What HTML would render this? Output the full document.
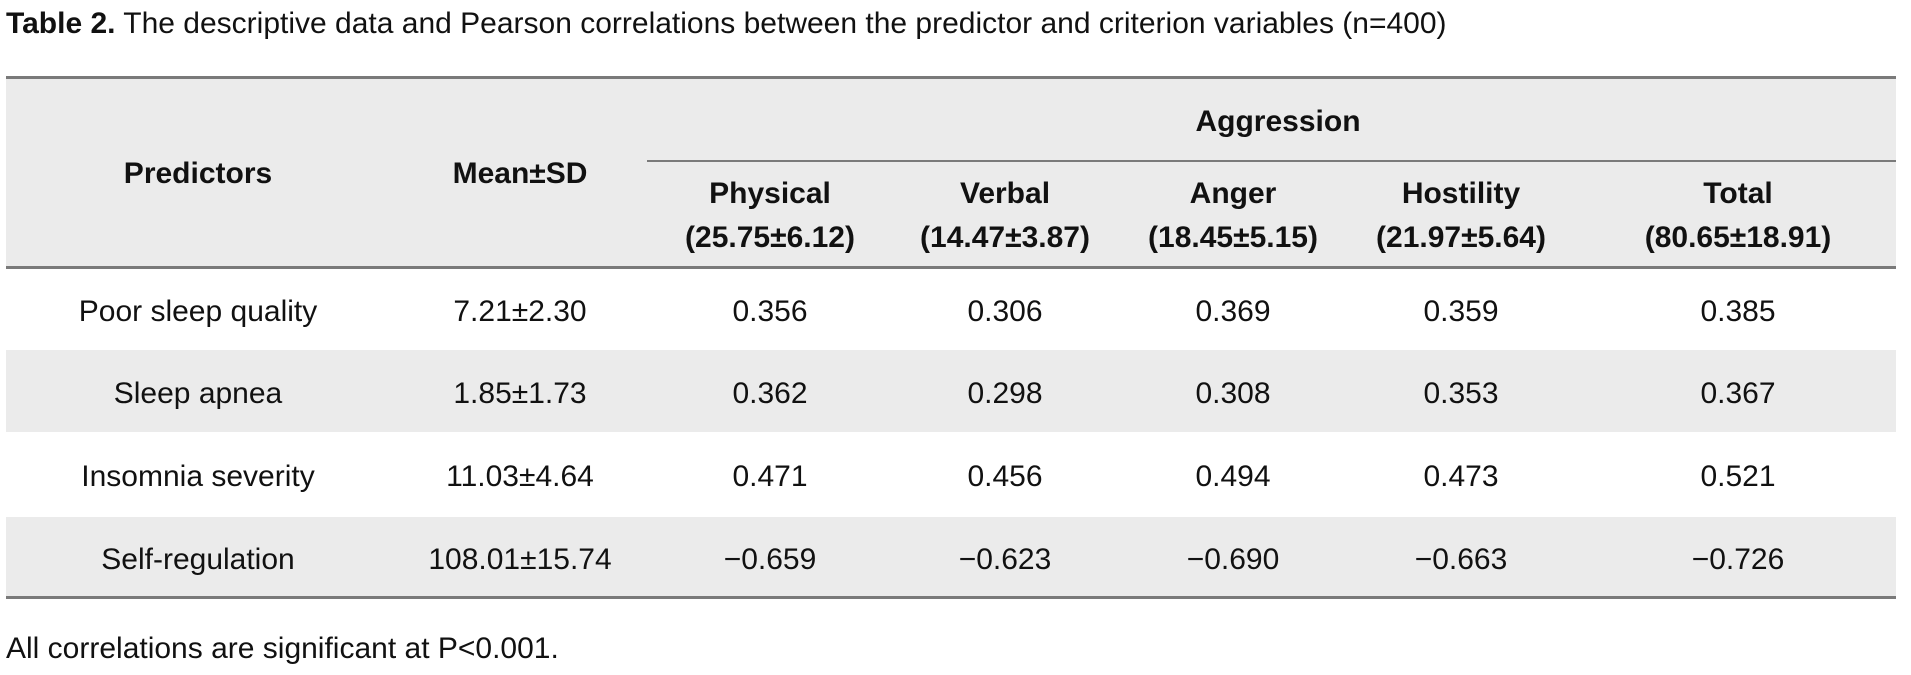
<!DOCTYPE html>
<html><head><meta charset="utf-8"><style>
body{margin:0;width:1911px;height:675px;background:#fff;position:relative;overflow:hidden;font-family:"Liberation Sans",sans-serif;color:#111}
.a{position:absolute;white-space:nowrap;transform:translate(-50%,-50%);font-size:30px}
.l{position:absolute;white-space:nowrap;font-size:30px;transform:translateY(-50%)}
.b{font-weight:bold}
.bg{position:absolute;left:6px;width:1890px;background:#ebebeb}
.r{position:absolute;background:#7a7a7a}
</style></head><body>
<div class="l" style="left:6px;top:24px"><b>Table 2.</b> The descriptive data and Pearson correlations between the predictor and criterion variables (n=400)</div>
<div class="bg" style="top:77px;height:190px"></div>
<div class="bg" style="top:350px;height:82px"></div>
<div class="bg" style="top:517px;height:80px"></div>
<div class="r" style="left:6px;width:1890px;top:76px;height:3px"></div>
<div class="r" style="left:647px;width:1249px;top:160px;height:2px"></div>
<div class="r" style="left:6px;width:1890px;top:266px;height:3px"></div>
<div class="r" style="left:6px;width:1890px;top:596px;height:3px"></div>
<div class="a b" style="left:198px;top:174px">Predictors</div>
<div class="a b" style="left:520px;top:174px">Mean±SD</div>
<div class="a b" style="left:1278px;top:122px">Aggression</div>
<div class="a b" style="left:770px;top:194px">Physical</div>
<div class="a b" style="left:770px;top:238px">(25.75±6.12)</div>
<div class="a b" style="left:1005px;top:194px">Verbal</div>
<div class="a b" style="left:1005px;top:238px">(14.47±3.87)</div>
<div class="a b" style="left:1233px;top:194px">Anger</div>
<div class="a b" style="left:1233px;top:238px">(18.45±5.15)</div>
<div class="a b" style="left:1461px;top:194px">Hostility</div>
<div class="a b" style="left:1461px;top:238px">(21.97±5.64)</div>
<div class="a b" style="left:1738px;top:194px">Total</div>
<div class="a b" style="left:1738px;top:238px">(80.65±18.91)</div>
<div id="rows"></div>
<div class="l" style="left:6px;top:649px">All correlations are significant at P&lt;0.001.</div>
<script>
const predictors=["Poor sleep quality","Sleep apnea","Insomnia severity","Self-regulation"];
const means=["7.21±2.30","1.85±1.73","11.03±4.64","108.01±15.74"];
const physical=["0.356","0.362","0.471","−0.659"];
const verbal=["0.306","0.298","0.456","−0.623"];
const anger=["0.369","0.308","0.494","−0.690"];
const hostility=["0.359","0.353","0.473","−0.663"];
const total=["0.385","0.367","0.521","−0.726"];
const cols=[predictors,means,physical,verbal,anger,hostility,total];
const cx=[198,520,770,1005,1233,1461,1738];
const cy=[312,394,477,560];
const names=["predictor","mean-sd","physical","verbal","anger","hostility","total"];
const root=document.getElementById('rows');
for(let i=0;i<predictors.length;i++){for(let j=0;j<cols.length;j++){
const d=document.createElement('div');d.className='a';
d.style.left=cx[j]+'px';d.style.top=cy[i]+'px';d.textContent=cols[j][i];


root.appendChild(d);}}
</script>
</body></html>
